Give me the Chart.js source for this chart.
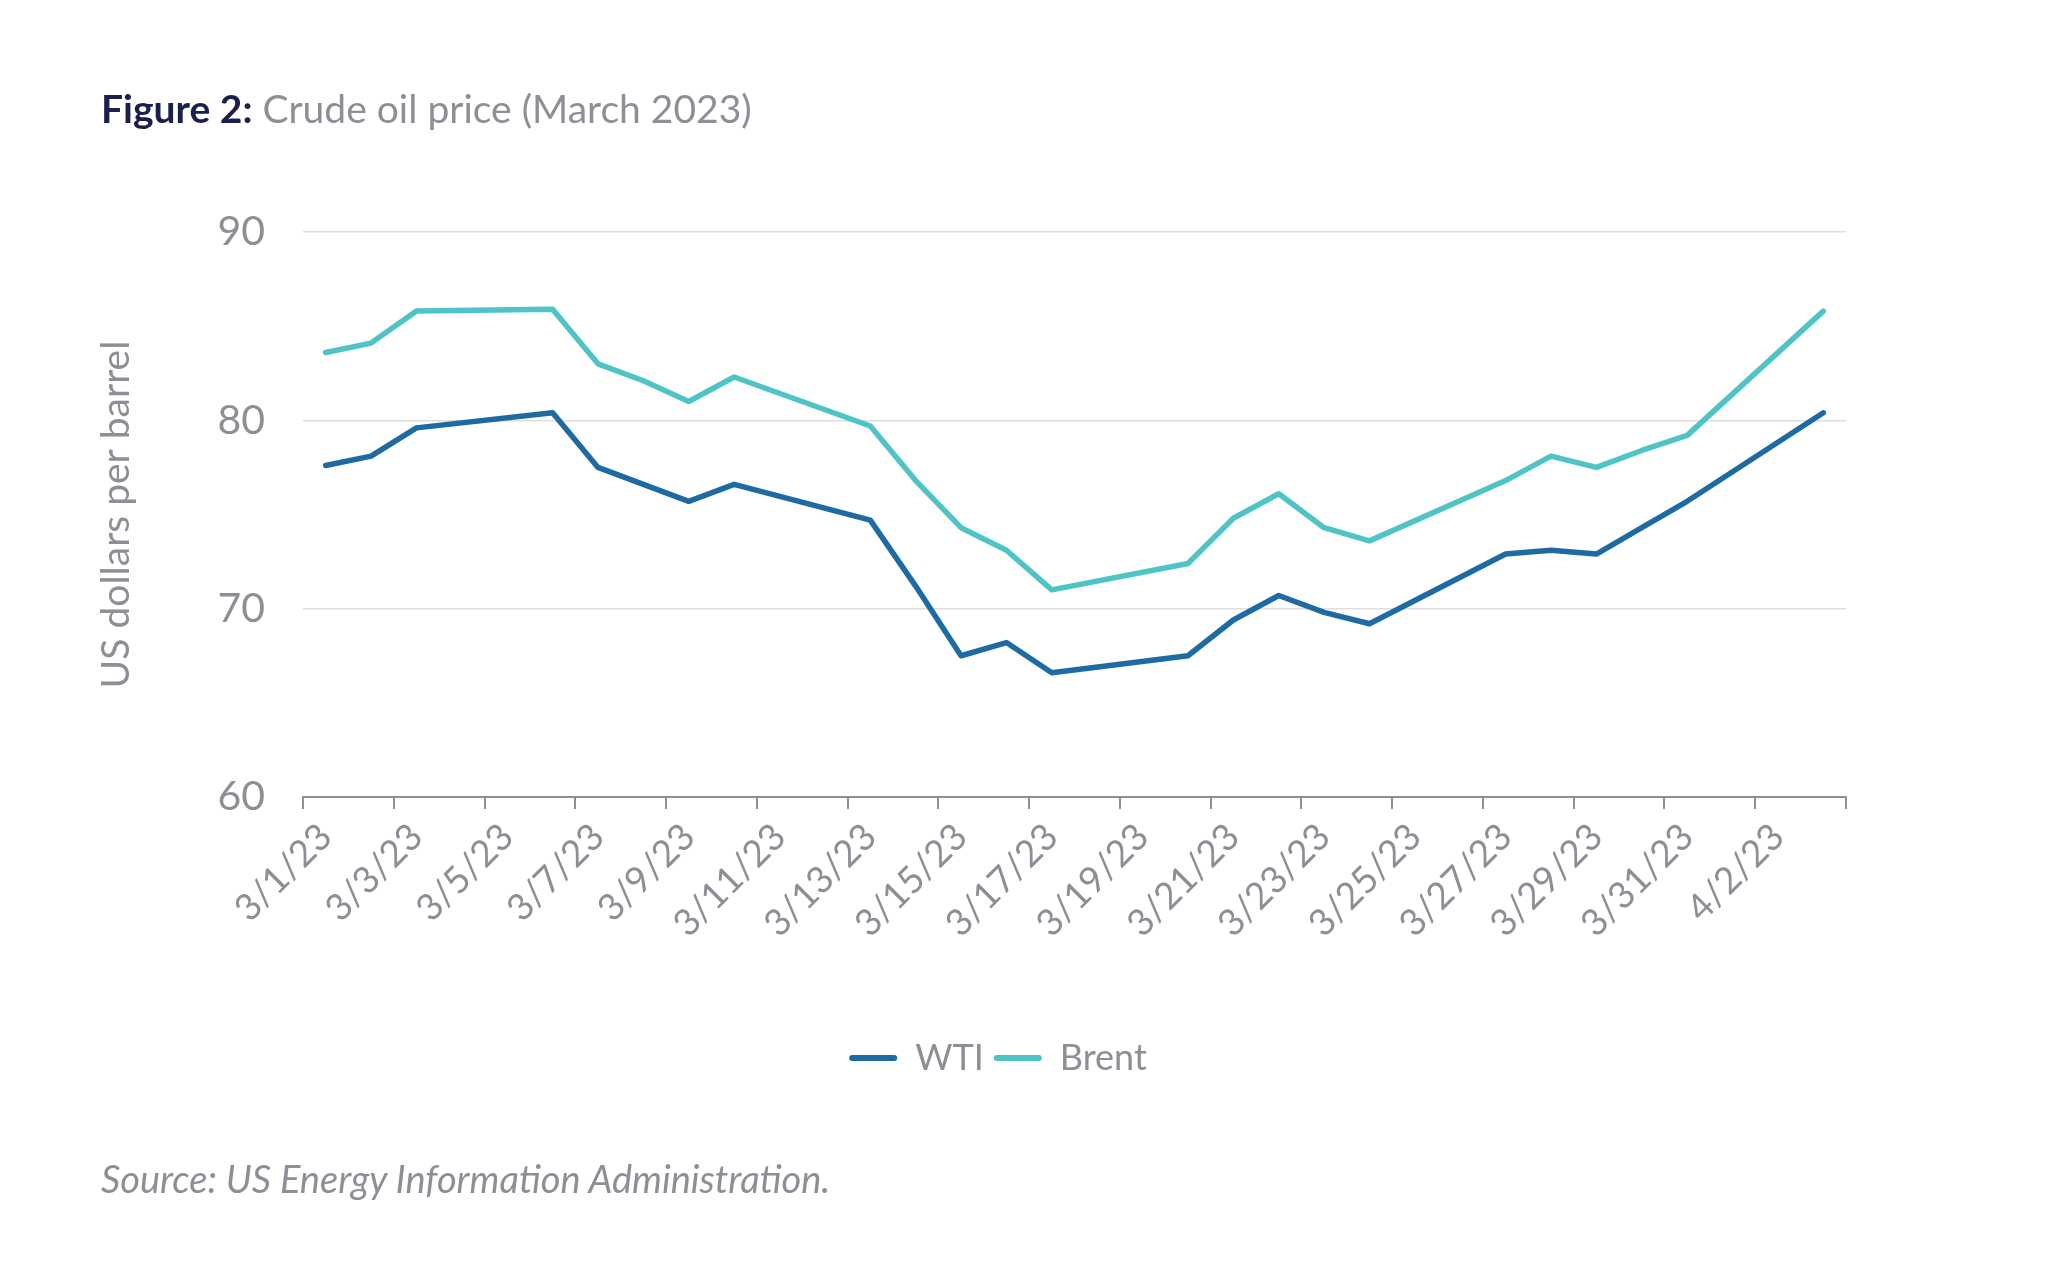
<!DOCTYPE html>
<html>
<head>
<meta charset="utf-8">
<script src="https://cdn.jsdelivr.net/npm/chart.js@4.4.0/dist/chart.umd.min.js"></script>
<style>
  body { margin: 0; background: #fff; }
  #wrap { position: relative; width: 2048px; height: 1286px; }
  #title { position: absolute; left: 101px; top: 85px; font-family: Lato, sans-serif; font-size: 39px; color: #8c8f95; }
  #title b { color: #1a1f4c; }
  #source { position: absolute; left: 101px; top: 1155px; font-family: Lato, sans-serif; font-size: 38px; font-style: italic; color: #8c8f95; }
</style>
</head>
<body>
<div id="wrap">
  <canvas id="chart" width="2048" height="1286"></canvas>
  <div id="title"><b>Figure 2:</b> Crude oil price (March 2023)</div>
  <div id="source">Source: US Energy Information Administration.</div>
</div>
<script>
// daily dates 3/1/23 .. 4/3/23, null on weekends
const dates = ['3/1/23','3/2/23','3/3/23','3/4/23','3/5/23','3/6/23','3/7/23','3/8/23','3/9/23','3/10/23',
  '3/11/23','3/12/23','3/13/23','3/14/23','3/15/23','3/16/23','3/17/23','3/18/23','3/19/23','3/20/23',
  '3/21/23','3/22/23','3/23/23','3/24/23','3/25/23','3/26/23','3/27/23','3/28/23','3/29/23','3/30/23',
  '3/31/23','4/1/23','4/2/23','4/3/23']
const wti = [77.6, 78.1, 79.6, null, null, 80.4, 77.5, 76.6, 75.7, 76.6,
  null, null, 74.7, 71.2, 67.5, 68.2, 66.6, null, null, 67.5,
  69.4, 70.7, 69.8, 69.2, null, null, 72.9, 73.1, 72.9, 74.3,
  75.7, null, null, 80.4]
const brent = [83.6, 84.1, 85.8, null, null, 85.9, 83.0, 82.1, 81.0, 82.3,
  null, null, 79.7, 76.8, 74.3, 73.1, 71.0, null, null, 72.4,
  74.8, 76.1, 74.3, 73.6, null, null, 76.8, 78.1, 77.5, 78.4,
  79.2, null, null, 85.8]
const yTicks = [60, 70, 80, 90]

const gray = '#8c8f95'
const font = 'Lato, sans-serif'

new Chart(document.getElementById('chart'), {
  type: 'line',
  data: {
    labels: dates,
    datasets: [
      { label: 'WTI', data: wti, borderColor: '#1e6aa2', backgroundColor: '#1e6aa2' },
      { label: 'Brent', data: brent, borderColor: '#4ec4c7', backgroundColor: '#4ec4c7' }
    ]
  },
  options: {
    responsive: false,
    animation: false,
    spanGaps: true,
    elements: {
      line: { borderWidth: 5.5, tension: 0, borderCapStyle: 'round', borderJoinStyle: 'round' },
      point: { radius: 0 }
    },
    layout: { padding: { left: 150, right: 202, top: 232, bottom: 200 } },
    plugins: {
      tooltip: { enabled: false },
      legend: {
        position: 'bottom',
        labels: {
          font: { family: font, size: 36 },
          color: gray,
          boxWidth: 48,
          boxHeight: 6,
          padding: 10,
          useBorderRadius: true,
          borderRadius: 3,
          generateLabels: chart => chart.data.datasets.map((ds, i) => ({
            text: ds.label, fillStyle: ds.borderColor, strokeStyle: ds.borderColor,
            lineWidth: 0, fontColor: gray, datasetIndex: i, borderRadius: 3
          }))
        }
      }
    },
    scales: {
      x: {
        offset: true,
        grid: {
          offset: true, drawOnChartArea: false, drawTicks: true, tickLength: 12, lineWidth: 2,
          // tick mark every second day edge, plus the closing edge
          color: c => (c.index === undefined || c.index % 2 === 0) ? gray : 'rgba(0,0,0,0)'
        },
        border: { display: true, color: gray, width: 2 },
        ticks: {
          autoSkip: false, maxRotation: 45, minRotation: 45, padding: 6,
          color: gray, font: { family: font, size: 37 },
          callback: (v, i) => (i % 2 === 0 ? dates[i] : '')
        },
        afterFit: s => { s.height = 233 }
      },
      y: {
        min: 60, max: 90,
        afterBuildTicks: s => { s.ticks = yTicks.map(v => ({ value: v })) },
        grid: { color: '#dedede', lineWidth: 1.5, drawTicks: false },
        border: { display: false },
        ticks: { color: gray, padding: 38, font: { family: font, size: 41 } },
        title: {
          display: true, text: 'US dollars per barrel', color: gray,
          font: { family: font, size: 39 }, padding: { top: -57, bottom: 0 }
        },
        afterFit: s => { s.width = 153 }
      }
    }
  }
})
</script>
</body>
</html>
